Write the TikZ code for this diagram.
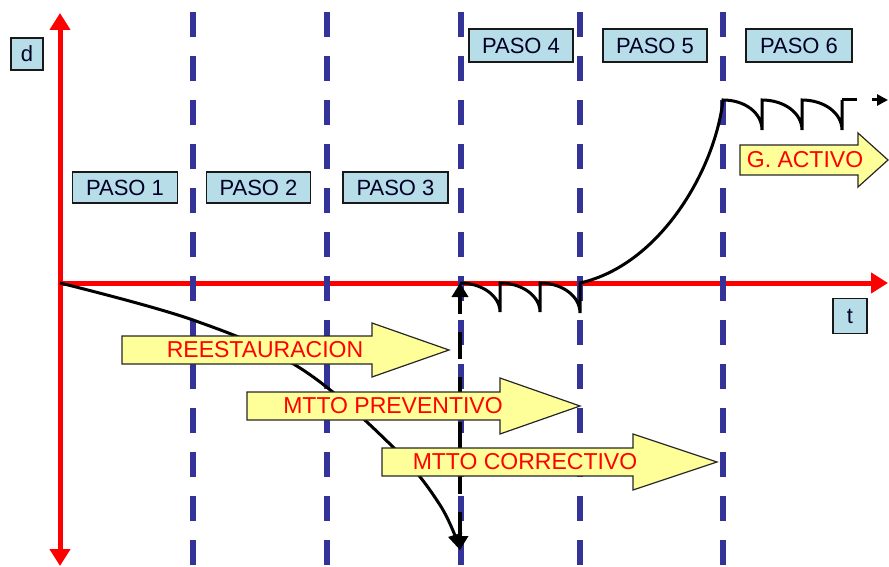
\documentclass[tikz,border=0pt]{standalone}
\usepackage{fontspec}
\setmainfont{Liberation Sans}
\usetikzlibrary{arrows.meta}
\definecolor{axisred}{HTML}{FF0000}
\definecolor{stepblue}{HTML}{333399}
\definecolor{labelfill}{HTML}{B7DDE8}
\definecolor{bandfill}{HTML}{FFFF99}
% block arrow: name, x start, y centre, head start, tip, body half height, head half height, text, text x
\newcommand\bandarrow[9]{%
  \draw[band] (#2,#3-#6) -- (#4,#3-#6) -- (#4,#3-#7) -- (#5,#3) -- (#4,#3+#7)
    -- (#4,#3+#6) -- (#2,#3+#6) -- cycle;
  \node[bandtext] (#1) at (#9,#3) {#8};}
\begin{document}
\begin{tikzpicture}[x=1pt,y=-1pt,
  axis/.style={draw=axisred,line width=5pt,-{Triangle[length=17pt,width=20pt]}},
  divider/.style={draw=stepblue,line width=5.5pt,dash pattern=on 25pt off 19pt},
  curve/.style={draw=black,line width=3pt},
  tag/.style={draw=black!90,line width=1.6pt,fill=labelfill,text=black!85!blue,
    font=\fontsize{22}{24}\selectfont,inner sep=0pt,minimum height=31pt},
  band/.style={draw=black!85,line width=1.2pt,fill=bandfill},
  bandtext/.style={text=axisred,font=\fontsize{23}{25}\selectfont,inner sep=0pt}
]
\useasboundingbox (0,0) rectangle (889,567);

% axes
\coordinate (O) at (60,283);
\coordinate (ytop) at (60,13);
\coordinate (ybot) at (60,566);
\coordinate (xend) at (888,283);
\draw[axis] (O) -- (ytop);
\draw[axis] (O) -- (ybot);
\draw[axis] (O) -- (xend);

% step dividers
\foreach \x [count=\i] in {193,327,461,580,723} {
  \coordinate (div\i a) at (\x,12);
  \coordinate (div\i b) at (\x,567);
  \draw[divider] (div\i a) -- (div\i b);
}

% degradation curve
\coordinate (fail) at (460,550);
\draw[curve,-{Triangle[length=16pt,width=14pt]}] plot[smooth,tension=0.6]
  coordinates {(60,283) (193,320) (300,368) (393,447) (440,505) (460,550)};

% restoration marker
\coordinate (restore) at (460,283);
\draw[draw=black,line width=4.5pt,dash pattern=on 27pt off 18pt,dash phase=9pt,
  {Triangle[length=14pt,width=16pt]}-{Triangle[length=14pt,width=16pt]}] (restore) -- (fail);

% preventive sawtooth, growth and active management sawtooth
\coordinate (grow) at (580,283);
\coordinate (peak) at (723,100);
\coordinate (tail) at (842,100);
\coordinate (tailend) at (888,100);
\draw[curve,line join=miter] (restore)
  .. controls (482,283) and (500,296) .. (500,312) -- (500,283)
  .. controls (522,283) and (540,296) .. (540,312) -- (540,283)
  .. controls (562,283) and (580,296) .. (580,313) -- (grow)
  .. controls (660,265) and (715,170) .. (peak)
  .. controls (745,100) and (762,113) .. (762,130) -- (762,100)
  .. controls (784,100) and (802,113) .. (802,130) -- (802,100)
  .. controls (824,100) and (842,113) .. (842,130) -- (tail);
\draw[curve,dash pattern=on 15pt off 15pt,-{Triangle[length=11pt,width=11pt]}] (tail) -- (tailend);

% block arrows
\bandarrow{reest}{122}{350}{372}{449}{14}{27}{REESTAURACION}{265}
\bandarrow{prev}{247}{406}{500}{580}{14}{28}{MTTO PREVENTIVO}{393}
\bandarrow{corr}{382}{462}{633}{717}{14}{28}{MTTO CORRECTIVO}{525}
\bandarrow{activo}{740}{160}{858}{888}{15}{27}{G. ACTIVO}{805}

% labels
\node[tag,minimum width=32pt,minimum height=32pt] (dlabel) at (27,54) {d};
\node[tag,minimum width=34pt,minimum height=35pt] (tlabel) at (850,316) {t};
\node[tag,minimum width=105pt] (paso1) at (125,187.5) {PASO 1};
\node[tag,minimum width=104pt] (paso2) at (258.5,187.5) {PASO 2};
\node[tag,minimum width=105pt] (paso3) at (395.5,187.5) {PASO 3};
\node[tag,minimum width=104pt,minimum height=33pt] (paso4) at (521,45.5) {PASO 4};
\node[tag,minimum width=104pt,minimum height=33pt] (paso5) at (655,45.5) {PASO 5};
\node[tag,minimum width=106pt,minimum height=33pt] (paso6) at (799,45.5) {PASO 6};
\end{tikzpicture}
\end{document}
